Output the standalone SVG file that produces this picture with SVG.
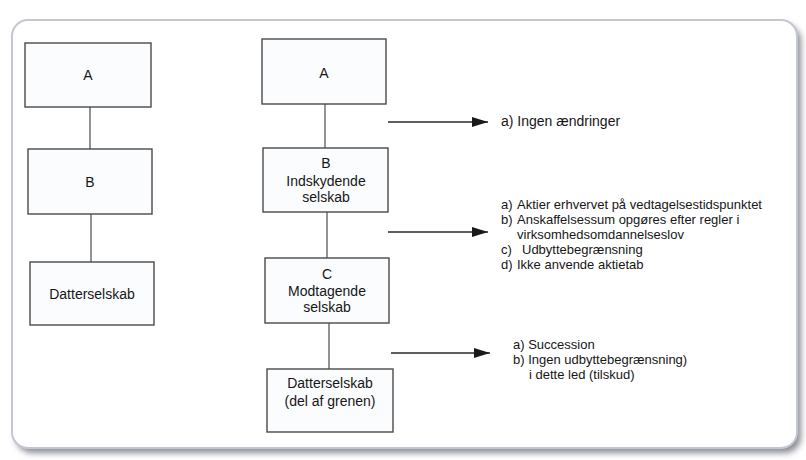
<svg xmlns="http://www.w3.org/2000/svg" width="806" height="460" viewBox="0 0 806 460">
  <defs>
    <filter id="soft" x="-5%" y="-5%" width="110%" height="115%">
      <feGaussianBlur stdDeviation="3"/>
    </filter>
    <marker id="arrow" viewBox="0 0 16 10" refX="16" refY="5" markerWidth="16" markerHeight="10" markerUnits="userSpaceOnUse" orient="auto">
      <path d="M0,0 L16,5 L0,10 Z" fill="#1a1a1a"/>
    </marker>
    <style>
      .box { fill: #fbfcfe; stroke: #4a4a4a; stroke-width: 1.4; }
      .link { stroke: #5a5a5a; stroke-width: 1.3; fill: none; }
      .arr { stroke: #2a2a2a; stroke-width: 1.3; fill: none; marker-end: url(#arrow); }
      text { font-family: "Liberation Sans", Arial, sans-serif; fill: #161616; }
      .lbl { font-size: 14px; text-anchor: middle; }
      .note { font-size: 14px; }
      .note13 { font-size: 13px; }
    </style>
  </defs>

  <!-- page background and panel frame -->
  <rect x="0" y="0" width="806" height="460" fill="#ffffff"/>
  <rect x="16" y="25" width="785" height="428" rx="16" fill="#8a8d94" filter="url(#soft)"/>
  <rect x="12" y="20" width="785" height="428" rx="16" fill="#ffffff" stroke="#c3c7d2" stroke-width="2"/>

  <!-- connectors -->
  <g id="connectors">
    <line class="link" x1="90" y1="107" x2="90" y2="149"/>
    <line class="link" x1="91" y1="214" x2="91" y2="262"/>
    <line class="link" x1="325" y1="104" x2="325" y2="148"/>
    <line class="link" x1="327" y1="212" x2="327" y2="258"/>
    <line class="link" x1="329" y1="323" x2="329" y2="369"/>
    <line class="arr" x1="388" y1="122" x2="488" y2="122"/>
    <line class="arr" x1="388" y1="232" x2="488" y2="232"/>
    <line class="arr" x1="391" y1="353" x2="490" y2="353"/>
  </g>

  <!-- left chain -->
  <g id="left-a">
    <rect class="box" x="25" y="43" width="126" height="64"/>
    <text class="lbl" x="88" y="80">A</text>
  </g>
  <g id="left-b">
    <rect class="box" x="28" y="149" width="124" height="65"/>
    <text class="lbl" x="90" y="187">B</text>
  </g>
  <g id="left-datter">
    <rect class="box" x="30" y="262" width="124" height="63"/>
    <text class="lbl" x="92" y="299">Datterselskab</text>
  </g>

  <!-- right chain -->
  <g id="right-a">
    <rect class="box" x="262" y="39" width="124" height="65"/>
    <text class="lbl" x="324" y="78">A</text>
  </g>
  <g id="right-b">
    <rect class="box" x="263" y="148" width="125" height="64"/>
    <text class="lbl" x="326" y="168">B</text>
    <text class="lbl" x="326" y="186">Indskydende</text>
    <text class="lbl" x="326" y="202">selskab</text>
  </g>
  <g id="right-c">
    <rect class="box" x="265" y="258" width="124" height="65"/>
    <text class="lbl" x="327" y="279">C</text>
    <text class="lbl" x="327" y="296">Modtagende</text>
    <text class="lbl" x="327" y="312">selskab</text>
  </g>
  <g id="right-datter">
    <rect class="box" x="267" y="369" width="126" height="63"/>
    <text class="lbl" x="330" y="388">Datterselskab</text>
    <text class="lbl" x="330" y="406">(del af grenen)</text>
  </g>

  <!-- consequences -->
  <g id="note-1">
    <text class="note" x="501" y="126">a) Ingen ændringer</text>
  </g>
  <g id="note-2">
    <text class="note13" x="501" y="209">a)</text>
    <text class="note13" x="517" y="209">Aktier erhvervet på vedtagelsestidspunktet</text>
    <text class="note13" x="501" y="224">b)</text>
    <text class="note13" x="517" y="224">Anskaffelsessum opgøres efter regler i</text>
    <text class="note13" x="517" y="239">virksomhedsomdannelseslov</text>
    <text class="note13" x="501" y="254">c)</text>
    <text class="note13" x="522" y="254">Udbyttebegrænsning</text>
    <text class="note13" x="501" y="269">d)</text>
    <text class="note13" x="517" y="269">Ikke anvende aktietab</text>
  </g>
  <g id="note-3">
    <text class="note13" x="513" y="349">a) Succession</text>
    <text class="note13" x="513" y="364">b) Ingen udbyttebegrænsning)</text>
    <text class="note13" x="529" y="379">i dette led (tilskud)</text>
  </g>
</svg>
